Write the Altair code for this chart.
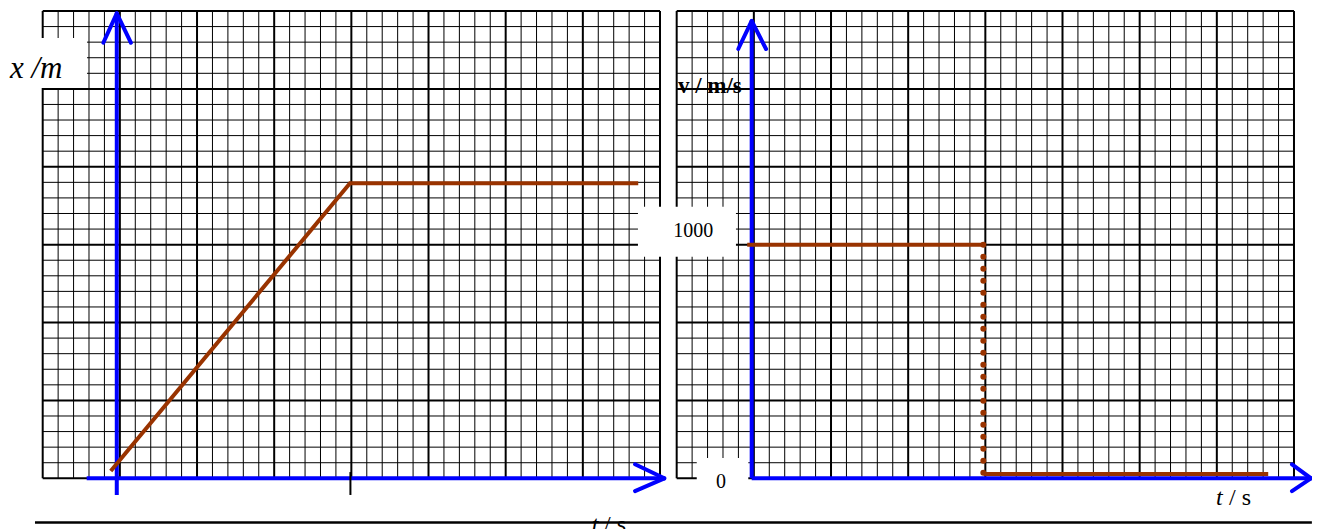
import altair as alt
import pandas as pd

# ---------------- data (grid units: one minor square = 1 unit) ----------------
NX, NY = 40, 30          # squares per panel
MAJOR = 5                # every 5th line is a heavy line

# left panel: x / m against t / s
pos_t = [4.41, 19.91, 38.59]
pos_x = [0.47, 18.94, 18.94]

# right panel: v / m/s against t / s
vel_t = [4.57, 19.90, 19.90, 38.33]
vel_v = [15.0, 15.0, 0.28, 0.28]
vel_seg = [0, 0, 1, 1]
drop_t = [19.87, 19.87]
drop_v = [15.0, 0.28]

# blue axes with arrow heads (start x, start y, end x, end y)
L_ax_x1 = [4.80, 4.80, 4.80, 2.85, 40.28, 40.28]
L_ax_y1 = [-1.07, 29.85, 29.85, 0.0, 0.0, 0.0]
L_ax_x2 = [4.80, 3.93, 5.72, 40.28, 38.38, 38.38]
L_ax_y2 = [29.85, 27.96, 27.96, 0.0, 0.90, -0.82]

R_ax_x1 = [4.86, 4.86, 4.86, 4.86, 41.10, 41.10]
R_ax_y1 = [0.0, 29.36, 29.36, 0.0, 0.0, 0.0]
R_ax_x2 = [4.86, 3.99, 5.79, 41.10, 39.87, 39.87]
R_ax_y2 = [29.36, 27.56, 27.56, 0.0, 0.90, -0.82]

# tick on the left time axis
tick_t = [19.94]
tick_y1 = [0.40]
tick_y2 = [-1.07]

# label boxes (x1, x2, y1, y2)
L_box = [-2.77, 2.87, 25.06, 28.27]
R_box_x1 = [-2.51, 1.30]
R_box_x2 = [3.84, 4.64]
R_box_y1 = [14.23, -1.39]
R_box_y2 = [17.44, 1.30]

# scale domains (grid units) that place each panel on the page
W, H = 1304, 521
LX_DOMAIN = [-2.2485, 82.248]
RX_DOMAIN = [-43.33, 41.167]
Y_DOMAIN = [-3.2548, 30.192]

SERIF = "Liberation Serif"
BLUE = "#0000FF"
BROWN = "#993300"


def xsc(dom):
    return alt.Scale(domain=dom, nice=False, zero=False)


YSC = alt.Scale(domain=Y_DOMAIN, nice=False, zero=False)


def seg_rules(df, dom, color, width, cap="butt"):
    return alt.Chart(df).mark_rule(color=color, strokeWidth=width, strokeCap=cap, clip=False).encode(
        x=alt.X("x1:Q", scale=xsc(dom), axis=None),
        x2="x2:Q",
        y=alt.Y("y1:Q", scale=YSC, axis=None),
        y2="y2:Q",
    )


def grid(dom):
    rows = []
    for k in range(NX + 1):
        rows.append(dict(x1=k, x2=k, y1=0, y2=NY, major=(k % MAJOR == 0)))
    for k in range(NY + 1):
        rows.append(dict(x1=0, x2=NX, y1=k, y2=k, major=(k % MAJOR == 0)))
    df = pd.DataFrame(rows)
    minor = seg_rules(df[~df.major], dom, "#000000", 1.0)
    major = seg_rules(df[df.major], dom, "#000000", 2.0)
    return minor + major


def boxes(x1, x2, y1, y2, dom):
    df = pd.DataFrame(dict(x1=x1, x2=x2, y1=y1, y2=y2))
    return alt.Chart(df).mark_rect(color="white", clip=False).encode(
        x=alt.X("x1:Q", scale=xsc(dom), axis=None),
        x2="x2:Q",
        y=alt.Y("y1:Q", scale=YSC, axis=None),
        y2="y2:Q",
    )


def label(txt, x, y, dom, size, align="left", style="normal", weight="normal"):
    df = pd.DataFrame(dict(x=[x], y=[y], t=[txt]))
    return alt.Chart(df).mark_text(
        align=align, baseline="alphabetic", font=SERIF, fontSize=size,
        fontStyle=style, fontWeight=weight, color="black", clip=False,
    ).encode(
        x=alt.X("x:Q", scale=xsc(dom), axis=None),
        y=alt.Y("y:Q", scale=YSC, axis=None),
        text="t:N",
    )


# ---------------- left panel ----------------
L_axes = pd.DataFrame(dict(x1=L_ax_x1, y1=L_ax_y1, x2=L_ax_x2, y2=L_ax_y2))
L_tick = pd.DataFrame(dict(x1=tick_t, x2=tick_t, y1=tick_y1, y2=tick_y2))
L_bottom = pd.DataFrame(dict(x1=[-0.50], x2=[82.24], y1=[-2.83], y2=[-2.83]))
pos_df = pd.DataFrame(dict(t=pos_t, x=pos_x))

left = alt.layer(
    grid(LX_DOMAIN),
    boxes([L_box[0]], [L_box[1]], [L_box[2]], [L_box[3]], LX_DOMAIN),
    seg_rules(L_axes.iloc[[0, 3]], LX_DOMAIN, BLUE, 4),
    seg_rules(L_axes.iloc[[1, 2, 4, 5]], LX_DOMAIN, BLUE, 4, cap="round"),
    seg_rules(L_tick, LX_DOMAIN, "black", 2),
    alt.Chart(pos_df).mark_line(color=BROWN, strokeWidth=4, clip=False).encode(
        x=alt.X("t:Q", scale=xsc(LX_DOMAIN), axis=None),
        y=alt.Y("x:Q", scale=YSC, axis=None),
        order=alt.Order("t:Q"),
    ),
    seg_rules(L_bottom, LX_DOMAIN, "black", 2.5),
    label("x /m", -2.12, 25.69, LX_DOMAIN, 31, style="italic"),
    label("t", 35.57, -3.43, LX_DOMAIN, 24, style="italic"),
    label("/ s", 36.37, -3.43, LX_DOMAIN, 24),
)

# ---------------- right panel ----------------
R_axes = pd.DataFrame(dict(x1=R_ax_x1, y1=R_ax_y1, x2=R_ax_x2, y2=R_ax_y2))
vel_df = pd.DataFrame(dict(t=vel_t, v=vel_v, seg=vel_seg))
drop_df = pd.DataFrame(dict(t=drop_t, v=drop_v))

right = alt.layer(
    grid(RX_DOMAIN),
    boxes(R_box_x1, R_box_x2, R_box_y1, R_box_y2, RX_DOMAIN),
    seg_rules(R_axes.iloc[[0, 3]], RX_DOMAIN, BLUE, 4),
    seg_rules(R_axes.iloc[[1, 2, 4, 5]], RX_DOMAIN, BLUE, 4, cap="round"),
    alt.Chart(vel_df).mark_line(color=BROWN, strokeWidth=4, clip=False).encode(
        x=alt.X("t:Q", scale=xsc(RX_DOMAIN), axis=None),
        y=alt.Y("v:Q", scale=YSC, axis=None),
        detail="seg:N",
    ),
    alt.Chart(drop_df).mark_line(color=BROWN, strokeWidth=6, strokeCap="round",
                                 strokeDash=[0.1, 11.9], clip=False).encode(
        x=alt.X("t:Q", scale=xsc(RX_DOMAIN), axis=None),
        y=alt.Y("v:Q", scale=YSC, axis=None),
    ),
    label("1000", 1.08, 15.51, RX_DOMAIN, 20, align="center"),
    label("0", 2.87, -0.64, RX_DOMAIN, 20, align="center"),
    label("v / m/s", 0.08, 24.72, RX_DOMAIN, 23, weight="bold"),
    label("t", 34.95, -1.71, RX_DOMAIN, 24, style="italic"),
    label("/ s", 35.79, -1.71, RX_DOMAIN, 24),
)

chart = alt.layer(left, right).resolve_scale(x="independent").properties(
    width=W, height=H,
    autosize=alt.AutoSizeParams(type="none"),
    padding=0,
    background="white",
).configure_view(stroke=None)

chart.save("out.html", embed_options={"renderer": "svg", "actions": False})
